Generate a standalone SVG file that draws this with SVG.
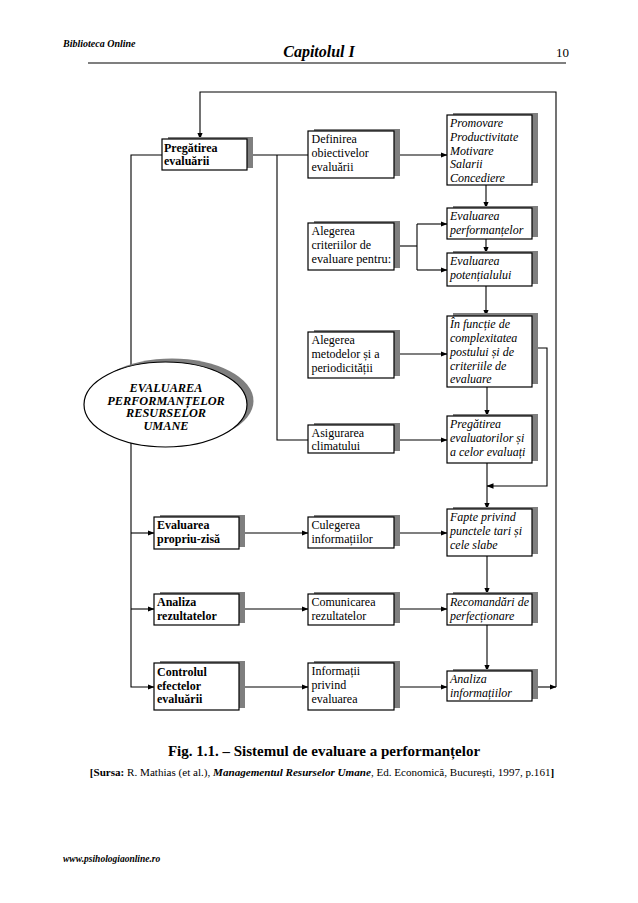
<svg xmlns="http://www.w3.org/2000/svg" width="638" height="903" viewBox="0 0 638 903">
<style>
text{font-family:"Liberation Serif","Times New Roman",serif;fill:#000}
.b1{font-size:12px;font-weight:bold}
.b2{font-size:12px}
.b3{font-size:12px;font-style:italic}
.sh{fill:#7f7f7f}
.bx{fill:#fff;stroke:#000;stroke-width:1.2}
.ln{fill:none;stroke:#000;stroke-width:1.1}
</style>
<defs>
<marker id="ar" markerWidth="7" markerHeight="6" refX="6.5" refY="2.75" orient="auto" markerUnits="userSpaceOnUse"><path d="M0,0 L7,2.75 L0,5.5 z" fill="#000"/></marker>
</defs>
<rect width="638" height="903" fill="#fff"/>
<!-- header -->
<text x="63" y="47" style="font-size:10px;font-weight:bold;font-style:italic">Biblioteca Online</text>
<text x="319" y="57" text-anchor="middle" style="font-size:16px;font-weight:bold;font-style:italic">Capitolul I</text>
<text x="569" y="57" text-anchor="end" style="font-size:13px">10</text>
<line x1="88" y1="63" x2="566" y2="63" stroke="#000" stroke-width="1.2"/>

<g id="connectors">
<path class="ln" d="M532,687 H556" marker-end="url(#ar)"/>
<path class="ln" d="M556,687 V92 H200 V139" marker-end="url(#ar)"/>
<path class="ln" d="M162,155 H131 V687 H154" marker-end="url(#ar)"/>
<path class="ln" d="M131,533 H154" marker-end="url(#ar)"/>
<path class="ln" d="M131,609 H154" marker-end="url(#ar)"/>
<path class="ln" d="M247,155 H308"/>
<path class="ln" d="M277,155 V440 H308"/>
<path class="ln" d="M394,155 H447" marker-end="url(#ar)"/>
<path class="ln" d="M486,185 V208" marker-end="url(#ar)"/>
<path class="ln" d="M486,239 V253" marker-end="url(#ar)"/>
<path class="ln" d="M394,246 H417"/>
<path class="ln" d="M417,224 V270"/>
<path class="ln" d="M417,224 H447" marker-end="url(#ar)"/>
<path class="ln" d="M417,270 H447" marker-end="url(#ar)"/>
<path class="ln" d="M486,286 V316" marker-end="url(#ar)"/>
<path class="ln" d="M394,354 H447" marker-end="url(#ar)"/>
<path class="ln" d="M487,387 V416" marker-end="url(#ar)"/>
<path class="ln" d="M394,440 H447" marker-end="url(#ar)"/>
<path class="ln" d="M487,463 V509" marker-end="url(#ar)"/>
<path class="ln" d="M532,348 H547 V486 H487" marker-end="url(#ar)"/>
<path class="ln" d="M239,533 H308" marker-end="url(#ar)"/>
<path class="ln" d="M394,533 H447" marker-end="url(#ar)"/>
<path class="ln" d="M487,556 V594" marker-end="url(#ar)"/>
<path class="ln" d="M239,609 H308" marker-end="url(#ar)"/>
<path class="ln" d="M394,609 H447" marker-end="url(#ar)"/>
<path class="ln" d="M487,625 V671" marker-end="url(#ar)"/>
<path class="ln" d="M239,687 H308" marker-end="url(#ar)"/>
<path class="ln" d="M394,687 H447" marker-end="url(#ar)"/>
</g>

<!-- ellipse -->
<g id="n-evaluarea">
<ellipse cx="172" cy="401" rx="81.5" ry="42.5" class="sh"/>
<ellipse cx="165.5" cy="404.5" rx="81.5" ry="42.5" fill="#fff" stroke="#000" stroke-width="1.2"/>
<g style="font-size:12.3px;font-weight:bold;font-style:italic" text-anchor="middle">
<text x="166" y="392">EVALUAREA</text>
<text x="166" y="404.5">PERFORMANȚELOR</text>
<text x="166" y="417">RESURSELOR</text>
<text x="166" y="429.5">UMANE</text>
</g>
</g>

<!-- column 1 -->
<g id="n-pregatirea">
<rect class="sh" x="168" y="137" width="85" height="31"/>
<rect class="bx" x="162" y="139" width="85" height="31"/>
<text class="b1" x="164" y="152">Pregătirea</text>
<text class="b1" x="164" y="165">evaluării</text>
</g>
<g id="n-propriu">
<rect class="sh" x="160" y="515" width="85" height="32"/>
<rect class="bx" x="154" y="517" width="85" height="32"/>
<text class="b1" x="157" y="529">Evaluarea</text>
<text class="b1" x="157" y="543">propriu-zisă</text>
</g>
<g id="n-analiza-rez">
<rect class="sh" x="160" y="592" width="85" height="31"/>
<rect class="bx" x="154" y="594" width="85" height="31"/>
<text class="b1" x="157" y="606">Analiza</text>
<text class="b1" x="157" y="620">rezultatelor</text>
</g>
<g id="n-controlul">
<rect class="sh" x="160" y="661" width="85" height="47"/>
<rect class="bx" x="154" y="663" width="85" height="47"/>
<text class="b1" x="157" y="676">Controlul</text>
<text class="b1" x="157" y="689.5">efectelor</text>
<text class="b1" x="157" y="703">evaluării</text>
</g>

<!-- column 2 -->
<g id="n-definirea">
<rect class="sh" x="314" y="129" width="86" height="47"/>
<rect class="bx" x="308" y="131" width="86" height="47"/>
<text class="b2" x="311.5" y="143">Definirea</text>
<text class="b2" x="311.5" y="157">obiectivelor</text>
<text class="b2" x="311.5" y="171">evaluării</text>
</g>
<g id="n-criterii">
<rect class="sh" x="314" y="221" width="86" height="47"/>
<rect class="bx" x="308" y="223" width="86" height="47"/>
<text class="b2" x="311.5" y="235">Alegerea</text>
<text class="b2" x="311.5" y="249">criteriilor de</text>
<text class="b2" x="311.5" y="263" style="font-size:12.3px">evaluare pentru:</text>
</g>
<g id="n-metode">
<rect class="sh" x="314" y="330" width="86" height="46"/>
<rect class="bx" x="308" y="332" width="86" height="46"/>
<text class="b2" x="311.5" y="344">Alegerea</text>
<text class="b2" x="311.5" y="358">metodelor și a</text>
<text class="b2" x="311.5" y="372">periodicității</text>
</g>
<g id="n-climat">
<rect class="sh" x="314" y="423" width="86" height="28"/>
<rect class="bx" x="308" y="425" width="86" height="28"/>
<text class="b2" x="311.5" y="437">Asigurarea</text>
<text class="b2" x="311.5" y="450">climatului</text>
</g>
<g id="n-culegerea">
<rect class="sh" x="314" y="515" width="86" height="31"/>
<rect class="bx" x="308" y="517" width="86" height="31"/>
<text class="b2" x="311.5" y="528.5">Culegerea</text>
<text class="b2" x="311.5" y="542.5">informațiilor</text>
</g>
<g id="n-comunicarea">
<rect class="sh" x="314" y="592" width="86" height="31"/>
<rect class="bx" x="308" y="594" width="86" height="31"/>
<text class="b2" x="311.5" y="606">Comunicarea</text>
<text class="b2" x="311.5" y="620">rezultatelor</text>
</g>
<g id="n-informatii">
<rect class="sh" x="314" y="661" width="86" height="47"/>
<rect class="bx" x="308" y="663" width="86" height="47"/>
<text class="b2" x="311.5" y="675">Informații</text>
<text class="b2" x="311.5" y="689">privind</text>
<text class="b2" x="311.5" y="703">evaluarea</text>
</g>

<!-- column 3 -->
<g id="n-promovare">
<rect class="sh" x="453" y="113" width="85" height="70"/>
<rect class="bx" x="447" y="115" width="85" height="70"/>
<text class="b3" x="450" y="127">Promovare</text>
<text class="b3" x="450" y="141">Productivitate</text>
<text class="b3" x="450" y="154.5">Motivare</text>
<text class="b3" x="450" y="168">Salarii</text>
<text class="b3" x="450" y="182">Concediere</text>
</g>
<g id="n-perf">
<rect class="sh" x="453" y="206" width="85" height="31"/>
<rect class="bx" x="447" y="208" width="85" height="31"/>
<text class="b3" x="450" y="219.5">Evaluarea</text>
<text class="b3" x="450" y="233.5">performanțelor</text>
</g>
<g id="n-potential">
<rect class="sh" x="453" y="251" width="85" height="33"/>
<rect class="bx" x="447" y="253" width="85" height="33"/>
<text class="b3" x="450" y="265">Evaluarea</text>
<text class="b3" x="450" y="279">potențialului</text>
</g>
<g id="n-functie">
<rect class="sh" x="453" y="313" width="85" height="71"/>
<rect class="bx" x="447" y="316" width="85" height="71"/>
<text class="b3" x="450" y="328">În funcție de</text>
<text class="b3" x="450" y="342">complexitatea</text>
<text class="b3" x="450" y="356">postului și de</text>
<text class="b3" x="450" y="370">criteriile de</text>
<text class="b3" x="450" y="383">evaluare</text>
</g>
<g id="n-preg-eval">
<rect class="sh" x="453" y="414" width="85" height="47"/>
<rect class="bx" x="447" y="416" width="85" height="47"/>
<text class="b3" x="450" y="428">Pregătirea</text>
<text class="b3" x="450" y="442">evaluatorilor și</text>
<text class="b3" x="450" y="456">a celor evaluați</text>
</g>
<g id="n-fapte">
<rect class="sh" x="453" y="507" width="85" height="47"/>
<rect class="bx" x="447" y="509" width="85" height="47"/>
<text class="b3" x="450" y="521">Fapte privind</text>
<text class="b3" x="450" y="535">punctele tari și</text>
<text class="b3" x="450" y="549">cele slabe</text>
</g>
<g id="n-recomandari">
<rect class="sh" x="453" y="592" width="85" height="31"/>
<rect class="bx" x="447" y="594" width="85" height="31"/>
<text class="b3" x="450" y="606">Recomandări de</text>
<text class="b3" x="450" y="620">perfecționare</text>
</g>
<g id="n-analiza-info">
<rect class="sh" x="453" y="669" width="85" height="30"/>
<rect class="bx" x="447" y="671" width="85" height="30"/>
<text class="b3" x="450" y="683">Analiza</text>
<text class="b3" x="450" y="697">informațiilor</text>
</g>

<!-- caption -->
<text x="324" y="756" text-anchor="middle" style="font-size:15px;font-weight:bold">Fig. 1.1. – Sistemul de evaluare a performanțelor</text>
<text x="322" y="776" text-anchor="middle" style="font-size:11.1px"><tspan font-weight="bold">[Sursa:</tspan> R. Mathias (et al.), <tspan font-weight="bold" font-style="italic">Managementul Resurselor Umane</tspan>, Ed. Economică, București, 1997, p.161<tspan font-weight="bold">]</tspan></text>

<text x="63" y="862" style="font-size:9.5px;font-weight:bold;font-style:italic">www.psihologiaonline.ro</text>
</svg>
